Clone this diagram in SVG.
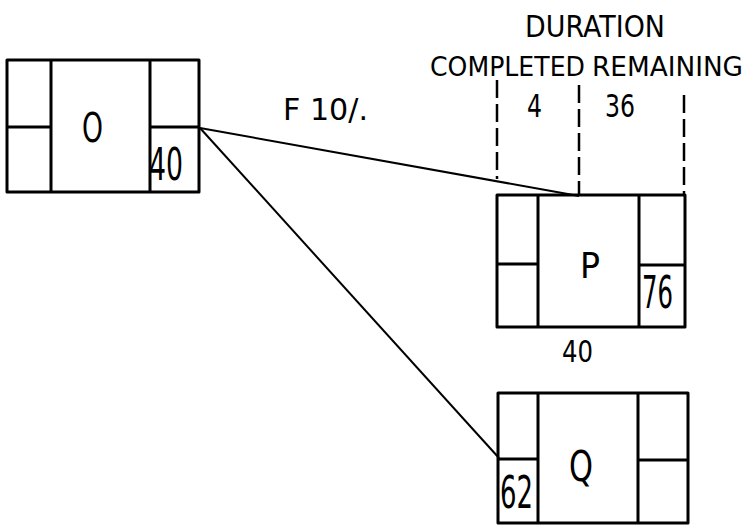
<svg xmlns="http://www.w3.org/2000/svg" width="754" height="529" viewBox="0 0 754 529">
<style>
.box{fill:none;stroke:#000;stroke-width:3;stroke-linejoin:round}
.div{stroke:#000;stroke-width:3}
.con{fill:none;stroke:#000;stroke-width:2}
.dash{fill:none;stroke:#000;stroke-width:2.5;stroke-dasharray:18 6}
text{font-family:"DejaVu Sans","Liberation Sans",sans-serif;fill:#000}
</style>
<rect width="754" height="529" fill="#fff"/>
<g id="connectors">
<path class="con" d="M200,128 L579,196"/>
<path class="con" d="M200,128 L499,458"/>
</g>
<g id="duration">
<text x="525" y="37" font-size="30" textLength="140" lengthAdjust="spacingAndGlyphs">DURATION</text>
<text x="430" y="76" font-size="27" textLength="155" lengthAdjust="spacingAndGlyphs">COMPLETED</text>
<text x="592" y="76" font-size="27" textLength="151" lengthAdjust="spacingAndGlyphs">REMAINING</text>
<text x="527" y="117" font-size="32" textLength="15" lengthAdjust="spacingAndGlyphs">4</text>
<text x="605" y="117" font-size="32" textLength="30" lengthAdjust="spacingAndGlyphs">36</text>
<path class="dash" d="M497,80 L497,179"/>
<path class="dash" d="M579,85 L579,196"/>
<path class="dash" d="M684,95 L684,195"/>
</g>
<text id="lag" x="283" y="120" font-size="30" textLength="85" lengthAdjust="spacingAndGlyphs">F 10/.</text>
<g id="node-O">
<rect class="box" x="7" y="60" width="192" height="132"/>
<path class="div" d="M51,60 V192 M150,60 V192 M7,127 H51 M150,127 H199"/>
<text x="82" y="142" font-size="40" textLength="21" lengthAdjust="spacingAndGlyphs">O</text>
<text x="149" y="180" font-size="44" textLength="34" lengthAdjust="spacingAndGlyphs">40</text>
</g>
<g id="node-P">
<rect class="box" x="497" y="195" width="188" height="132"/>
<path class="div" d="M538,195 V327 M639,195 V327 M497,264 H538 M639,265 H685"/>
<text x="580" y="278" font-size="36" textLength="20" lengthAdjust="spacingAndGlyphs">P</text>
<text x="642" y="308" font-size="45" textLength="31" lengthAdjust="spacingAndGlyphs">76</text>
<text x="562" y="362" font-size="30" textLength="31" lengthAdjust="spacingAndGlyphs">40</text>
</g>
<g id="node-Q">
<rect class="box" x="498" y="393" width="190" height="130"/>
<path class="div" d="M538,393 V523 M638,393 V523 M498,459 H538 M638,460 H688"/>
<text x="569" y="481" font-size="42" textLength="24" lengthAdjust="spacingAndGlyphs">Q</text>
<text x="500" y="508" font-size="45" textLength="33" lengthAdjust="spacingAndGlyphs">62</text>
</g>
</svg>
